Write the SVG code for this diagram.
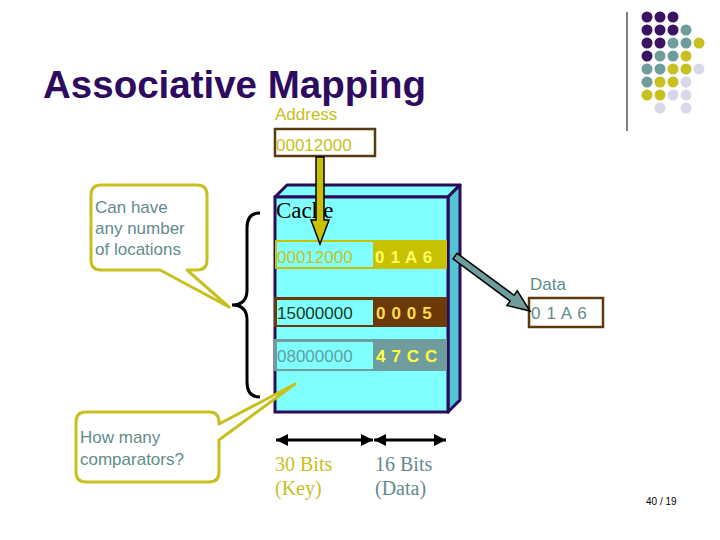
<svg xmlns="http://www.w3.org/2000/svg" width="720" height="540" viewBox="0 0 720 540">
<style>
.sans{font-family:"Liberation Sans",Arial,sans-serif}
.serif{font-family:"Liberation Serif","Times New Roman",serif}
.olive{fill:#c8c020}
.teal{fill:#5f8c8c}
.val{font-weight:bold;letter-spacing:0.6px}
.callout{fill:#ffffff;stroke:#c8c020;stroke-width:3;stroke-linejoin:round}
.cell{fill:#80ffff}
.dp{fill:#3a1463}.dt{fill:#6f9d9d}.dy{fill:#c8c020}.dl{fill:#d8d8ea}
</style>
<defs>
<marker id="ah" viewBox="0 0 12 12" refX="12" refY="6" markerWidth="12" markerHeight="12" markerUnits="userSpaceOnUse" orient="auto-start-reverse">
<path d="M0,0 L12,6 L0,12 Z" fill="#000"/>
</marker>
</defs>
<rect width="720" height="540" fill="#ffffff"/>

<g id="decor">
<line x1="627" y1="12" x2="627" y2="131" stroke="#000" stroke-width="1"/>
<g>
<circle class="dp" cx="647" cy="17" r="5.5"/><circle class="dp" cx="660" cy="17" r="5.5"/><circle class="dp" cx="673" cy="17" r="5.5"/>
<circle class="dp" cx="647" cy="30" r="5.5"/><circle class="dp" cx="660" cy="30" r="5.5"/><circle class="dp" cx="673" cy="30" r="5.5"/><circle class="dt" cx="686" cy="30" r="5.5"/>
<circle class="dp" cx="647" cy="43" r="5.5"/><circle class="dp" cx="660" cy="43" r="5.5"/><circle class="dt" cx="673" cy="43" r="5.5"/><circle class="dt" cx="686" cy="43" r="5.5"/><circle class="dy" cx="699" cy="43" r="5.5"/>
<circle class="dp" cx="647" cy="56" r="5.5"/><circle class="dt" cx="660" cy="56" r="5.5"/><circle class="dt" cx="673" cy="56" r="5.5"/><circle class="dy" cx="686" cy="56" r="5.5"/>
<circle class="dt" cx="647" cy="69" r="5.5"/><circle class="dt" cx="660" cy="69" r="5.5"/><circle class="dy" cx="673" cy="69" r="5.5"/><circle class="dy" cx="686" cy="69" r="5.5"/><circle class="dl" cx="699" cy="69" r="5.5"/>
<circle class="dt" cx="647" cy="82" r="5.5"/><circle class="dy" cx="660" cy="82" r="5.5"/><circle class="dy" cx="673" cy="82" r="5.5"/><circle class="dl" cx="686" cy="82" r="5.5"/>
<circle class="dy" cx="647" cy="95" r="5.5"/><circle class="dy" cx="660" cy="95" r="5.5"/><circle class="dl" cx="673" cy="95" r="5.5"/><circle class="dl" cx="686" cy="95" r="5.5"/>
<circle class="dl" cx="660" cy="108" r="5.5"/><circle class="dl" cx="686" cy="108" r="5.5"/>
</g>
</g>

<text id="title" class="sans" x="43" y="98" font-size="38.5" font-weight="bold" fill="#2e0b5f">Associative Mapping</text>

<g id="address">
<text class="sans olive" x="275" y="120" font-size="17">Address</text>
<rect x="275" y="129" width="100" height="27" fill="#fff" stroke="#5c3a10" stroke-width="2.5"/>
<text class="sans olive" x="276" y="151" font-size="17">00012000</text>
</g>

<g id="cache">
<polygon points="275,197 287,185 460,185 448,197" fill="#80ffff" stroke="#2b0c5c" stroke-width="3" stroke-linejoin="round"/>
<polygon points="448,197 460,185 460,400 448,412" fill="#55c4d2" stroke="#2b0c5c" stroke-width="3" stroke-linejoin="round"/>
<rect x="275" y="197" width="173" height="215" fill="#80ffff" stroke="#2b0c5c" stroke-width="3"/>
<text class="serif" x="276" y="218" font-size="23" fill="#000">Cache</text>
</g>

<g id="row1">
<rect x="275" y="240" width="172" height="29" fill="#c8c000"/>
<rect class="cell" x="277" y="242" width="96" height="25"/>
<text class="sans olive" x="277" y="263" font-size="17">00012000</text>
<text class="sans val" x="375" y="263" font-size="17" fill="#ffff60">0 1 A 6</text>
</g>
<g id="row2">
<rect x="274" y="297" width="173" height="30" fill="#6b3a08"/>
<rect class="cell" x="277" y="300" width="96" height="25"/>
<text class="sans" x="277" y="319" font-size="17" fill="#1c3a20">15000000</text>
<text class="sans val" x="376" y="319" font-size="17" fill="#ffdd44">0 0 0 5</text>
</g>
<g id="row3">
<rect x="274" y="339" width="173" height="32" fill="#6f9d9d"/>
<rect class="cell" x="277" y="342" width="96" height="27"/>
<text class="sans" x="277" y="362" font-size="17" fill="#5f9ea0">08000000</text>
<text class="sans val" x="376" y="362" font-size="17" fill="#ffff40">4 7 C C</text>
</g>

<g id="data">
<text class="sans teal" x="530" y="290" font-size="17">Data</text>
<rect x="529" y="298" width="74" height="29" fill="#fff" stroke="#5c3a10" stroke-width="2.5"/>
<text class="sans teal" x="531" y="319" font-size="17" letter-spacing="0.6">0 1 A 6</text>
</g>

<g id="callout-locations">
<path class="callout" d="M101,185 H197 Q207,185 207,195 V260 Q207,270 197,270 H187 L229,307 L160,270 H101 Q91,270 91,260 V195 Q91,185 101,185 Z"/>
<text class="sans teal" font-size="17"><tspan x="95" y="213">Can have</tspan><tspan x="95" y="234">any number</tspan><tspan x="95" y="255">of locations</tspan></text>
</g>

<g id="callout-comparators">
<path class="callout" d="M86,412 H209 Q219,412 219,422 V424 L295,384 L219,440 V472 Q219,482 209,482 H86 Q76,482 76,472 V422 Q76,412 86,412 Z"/>
<text class="sans teal" font-size="17"><tspan x="80" y="443">How many</tspan><tspan x="80" y="465">comparators?</tspan></text>
</g>

<g id="bits">
<text class="serif olive" font-size="20"><tspan x="275" y="471">30 Bits</tspan><tspan x="275" y="495">(Key)</tspan></text>
<text class="serif teal" font-size="20"><tspan x="375" y="471">16 Bits</tspan><tspan x="375" y="495">(Data)</tspan></text>
</g>

<g id="connectors">
<path d="M260,213 Q247,213 247,228 V290 Q247,305 232,305 Q247,305 247,320 V382 Q247,397 260,397" fill="none" stroke="#000" stroke-width="3"/>
<polygon points="316,157 324,157 324,220 329,220 320,244 311,220 316,220" fill="#c8c000" stroke="#000" stroke-width="1.5" stroke-linejoin="miter"/>
<polygon points="457,253.2 514.1,295.3 517.3,290.9 530,311 506.9,305.5 510.1,301.1 453,258.9" fill="#6f9d9d" stroke="#000" stroke-width="1.5"/>
<line x1="276" y1="440" x2="373" y2="440" stroke="#000" stroke-width="3" marker-start="url(#ah)" marker-end="url(#ah)"/>
<line x1="374" y1="440" x2="446" y2="440" stroke="#000" stroke-width="3" marker-start="url(#ah)" marker-end="url(#ah)"/>
</g>

<text id="page" class="sans" x="646" y="505" font-size="10" fill="#000">40 / 19</text>
</svg>
